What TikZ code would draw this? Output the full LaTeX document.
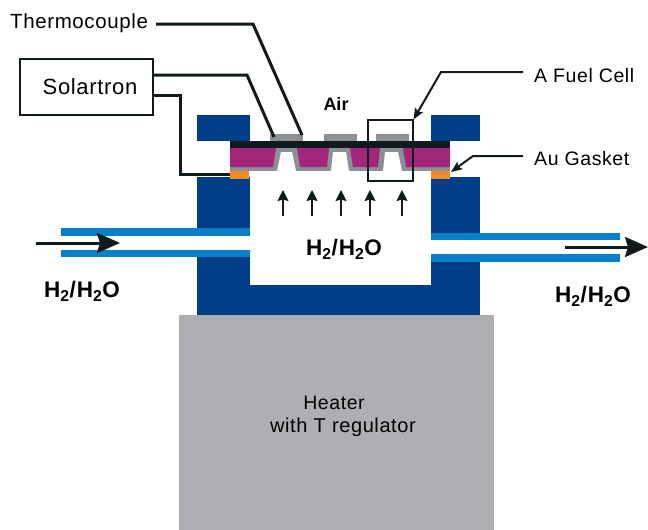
\documentclass[tikz,border=0pt]{standalone}
\usepackage{fontspec}
\setmainfont{Liberation Sans}
\newfontfamily\widefont[LetterSpace=3]{Liberation Sans}
\newfontfamily\widebold[LetterSpace=4]{Liberation Sans Bold}
\usetikzlibrary{arrows.meta}
\definecolor{cellnavy}{HTML}{003F87}
\definecolor{cellpipe}{HTML}{0A80C8}
\definecolor{cellmagenta}{HTML}{A3267A}
\definecolor{cellgrey}{HTML}{8A9096}
\definecolor{cellheater}{HTML}{ADAFB2}
\definecolor{cellgold}{HTML}{F08A24}
\definecolor{cellblack}{HTML}{111A1C}
\newcommand{\gasmix}{H\textsubscript{2}/H\textsubscript{2}O}
\tikzset{
  wire/.style={line width=3pt, cellblack},
  label/.style={font=\widefont\fontsize{20.5}{24}\selectfont, inner sep=0pt},
  sidelabel/.style={font=\widefont\fontsize{19.5}{24}\selectfont, inner sep=0pt},
  gaslabel/.style={font=\widebold\fontsize{22.5}{26}\selectfont, inner sep=0pt},
  flow/.style={line width=3pt, cellblack, -{Stealth[length=23pt, width=20pt, inset=3pt]}},
  riser/.style={line width=1.8pt, cellblack, -{Stealth[length=11pt, width=11pt, inset=1.5pt]}},
  pointer/.style={line width=2pt, cellblack, -{Stealth[length=11pt, width=9pt, inset=2pt]}}
}

\begin{document}
\begin{tikzpicture}[x=1pt, y=-1pt]
  \useasboundingbox (0,0) rectangle (648,530);
  % --- furnace body ---
  \fill[cellnavy] (197,115) rectangle (250,141);
  \fill[cellnavy] (431,115) rectangle (480,141);
  \fill[cellnavy] (197,177) rectangle (480,316);
  \fill[white] (250,171) rectangle (431,285);
  % heater
  \fill[cellheater] (179,315) rectangle (494,530);
  % --- gas pipes ---
  \fill[white] (197,236) rectangle (250,250);
  \fill[white] (431,240) rectangle (480,254);
  \fill[cellpipe] (61,228) rectangle (250,236);
  \fill[cellpipe] (61,250) rectangle (250,257);
  \fill[cellpipe] (431,233) rectangle (620,240);
  \fill[cellpipe] (431,254) rectangle (620,262);
  % --- cell stack ---
  \fill[cellgrey] (230,148) rectangle (450,171);
  \fill[cellblack] (230,141) rectangle (450,148);
  % magenta segments
  \fill[cellmagenta] (230,148) -- (276,148) -- (273,167) -- (230,167) -- cycle;
  \fill[cellmagenta] (297,148) -- (329,148) -- (327,167) -- (300,167) -- cycle;
  \fill[cellmagenta] (350,148) -- (380,148) -- (378,167) -- (353,167) -- cycle;
  \fill[cellmagenta] (403,148) -- (450,148) -- (450,167) -- (406,167) -- cycle;
  % openings under the membrane
  \fill[white] (281,152) -- (292,152) -- (296,171) -- (277,171) -- cycle;
  \fill[white] (333,152) -- (346,152) -- (349,171) -- (331,171) -- cycle;
  \fill[white] (385,152) -- (398,152) -- (402,171) -- (383,171) -- cycle;
  % top contacts
  \fill[cellgrey] (270,134) rectangle (303,141);
  \fill[cellgrey] (324,134) rectangle (357,141);
  \fill[cellgrey] (376,134) rectangle (409,141);
  % gaskets
  \fill[cellgold] (230,171) rectangle (249,179);
  \fill[cellgold] (431,171) rectangle (450,179);
  % --- labels ---
  \node[label, anchor=west] (thermo) at (10,23) {Thermocouple};
  \node[draw=cellblack, line width=1.2pt, minimum width=133pt, minimum height=56pt, inner sep=0pt,
        label] (solar) at (86.5,87) {\hspace*{7pt}\raisebox{-2pt}{\fontsize{22}{26}\selectfont Solartron}};
  \node[sidelabel, anchor=west] (fuel) at (534,76) {A Fuel Cell};
  \node[sidelabel, anchor=west] (gasket) at (534,159) {Au Gasket};
  \node[font=\bfseries\fontsize{18}{20}\selectfont, inner sep=0pt] (air) at (336,104) {Air};
  \node[gaslabel] (gas mid) at (344,249) {\gasmix};
  \node[gaslabel] (gas in) at (82,291) {\gasmix};
  \node[gaslabel] (gas out) at (593,296) {\gasmix};
  \node[sidelabel] (heater) at (334,403) {Heater};
  \node[font=\widefont\fontsize{20}{24}\selectfont, inner sep=0pt] (regulator) at (343,427) {with T regulator};
  \node[draw=cellblack, line width=1.1pt, minimum width=45pt, minimum height=61pt, inner sep=0pt] (cell) at (390.5,150.5) {};
  % --- free ends of the connectors ---
  \coordinate (tc start) at (156,24);
  \coordinate (tc bend) at (253,24);
  \coordinate (tc end) at (302,135);
  \coordinate (s1 start) at (153,75);
  \coordinate (s1 bend) at (247,75);
  \coordinate (s1 end) at (274,137);
  \coordinate (s2 start) at (153,95);
  \coordinate (s2 bend) at (180,95);
  \coordinate (s2 low) at (180,174);
  \coordinate (s2 end) at (230,174);
  \coordinate (fuel start) at (523,72);
  \coordinate (fuel bend) at (441,72);
  \coordinate (gasket start) at (523,156);
  \coordinate (gasket bend) at (473,156);
  \coordinate (gasket tip) at (451,172);
  \coordinate (in start) at (36,243);
  \coordinate (in tip) at (120,243);
  \coordinate (out start) at (565,247);
  \coordinate (out tip) at (648,247);
  % --- connectors ---
  \draw[wire] (tc start) -- (tc bend) -- (tc end);
  \draw[wire] (s1 start) -- (s1 bend) -- (s1 end);
  \draw[wire] (s2 start) -- (s2 bend) -- (s2 low) -- (s2 end);
  \draw[pointer] (fuel start) -- (fuel bend) -- (cell.north east);
  \draw[pointer] (gasket start) -- (gasket bend) -- (gasket tip);
  \draw[flow] (in start) -- (in tip);
  \draw[flow] (out start) -- (out tip);
  % rising gas arrows
  \foreach \xpos in {283,312,341,370,402} {
    \coordinate (rise low) at (\xpos,216);
    \coordinate (rise high) at (\xpos,190);
    \draw[riser] (rise low) -- (rise high);
  }
\end{tikzpicture}
\end{document}
